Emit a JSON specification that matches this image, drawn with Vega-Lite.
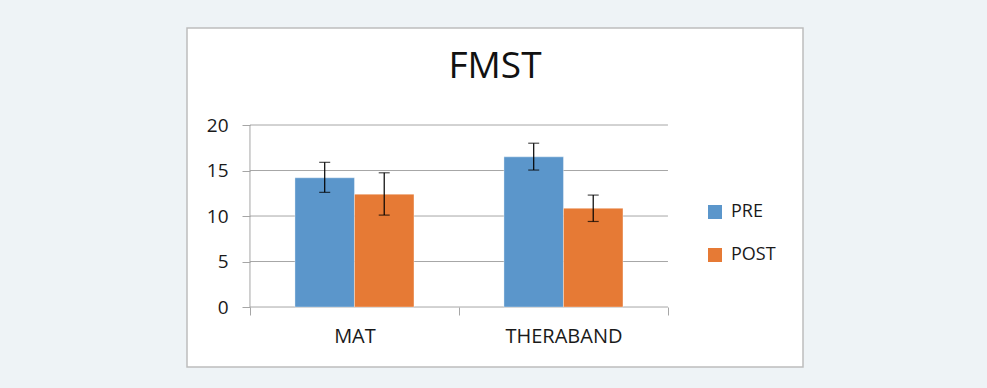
{
  "$schema": "https://vega.github.io/schema/vega-lite/v6.json",
  "width": 616,
  "height": 339,
  "autosize": {"type": "none"},
  "padding": {"left": 187, "top": 28, "right": 184, "bottom": 21},
  "background": "#EEF3F6",
  "config": {
    "view": {"fill": "#FFFFFF", "stroke": "#BDBDBD", "strokeWidth": 1.5},
    "font": "Open Sans"
  },
  "title": {
    "text": "FMST",
    "fontSize": 37,
    "font": "Open Sans",
    "fontWeight": "normal",
    "color": "#111111",
    "anchor": "middle",
    "frame": "group",
    "baseline": "alphabetic",
    "offset": -87
  },
  "datasets": {
    "bars": [
      {"group": "MAT", "phase": "PRE", "value": 14.2, "lo": 12.6, "hi": 15.9},
      {"group": "MAT", "phase": "POST", "value": 12.4, "lo": 10.1, "hi": 14.75},
      {"group": "THERABAND", "phase": "PRE", "value": 16.5, "lo": 15.05, "hi": 18.0},
      {"group": "THERABAND", "phase": "POST", "value": 10.85, "lo": 9.4, "hi": 12.3}
    ],
    "grid": [{"v": 0}, {"v": 5}, {"v": 10}, {"v": 15}, {"v": 20}]
  },
  "layer": [
    {
      "data": {"name": "grid"},
      "mark": {"type": "rule", "color": "#A6A6A6", "strokeWidth": 1},
      "encoding": {
        "y": {"field": "v", "type": "quantitative", "scale": {"domain": [-6.59, 30.66], "nice": false, "zero": false}},
        "x": {"datum": "MAT", "type": "nominal", "bandPosition": 0, "scale": {"domain": ["MAT", "THERABAND"], "paddingInner": 0, "paddingOuter": 0.4737, "align": 0.318}},
        "x2": {"datum": "THERABAND", "bandPosition": 1}
      }
    },
    {
      "data": {"name": "grid"},
      "transform": [{"filter": "datum.v == 0"}],
      "mark": {"type": "rule", "color": "#A6A6A6", "strokeWidth": 1},
      "encoding": {
        "y": {"datum": 0, "type": "quantitative"},
        "y2": {"datum": 20},
        "x": {"datum": "MAT", "type": "nominal", "bandPosition": 0}
      }
    },
    {
      "data": {"name": "bars"},
      "layer": [
        {
          "mark": {"type": "bar", "stroke": "#FFFFFF", "strokeOpacity": 0.35, "strokeWidth": 1},
          "encoding": {
            "x": {
              "field": "group", "type": "nominal",
              "axis": {
                "orient": "bottom", "offset": -60, "title": null, "domain": false,
                "tickBand": "extent", "tickSize": 8, "tickColor": "#A6A6A6",
                "labelAngle": 0, "labelAlign": "center", "labelFontSize": 20, "labelColor": "#1a1a1a", "labelPadding": 21, "labelFont": "Open Sans"
              }
            },
            "xOffset": {"field": "phase", "type": "nominal", "sort": ["PRE", "POST"], "scale": {"paddingInner": 0, "paddingOuter": 0.756}},
            "y": {
              "field": "value", "type": "quantitative",
              "axis": {
                "orient": "left", "offset": -63, "title": null, "domain": false, "grid": false,
                "values": [0, 5, 10, 15, 20], "tickSize": 8, "tickColor": "#A6A6A6",
                "labelFontSize": 19, "labelColor": "#1a1a1a", "labelPadding": 14, "labelFont": "Open Sans"
              }
            },
            "color": {
              "field": "phase", "type": "nominal", "sort": ["PRE", "POST"],
              "scale": {"domain": ["PRE", "POST"], "range": ["#5B96CB", "#E67A35"]},
              "legend": {
                "orient": "none", "legendX": 519, "legendY": 175, "title": null,
                "symbolType": "square", "symbolSize": 196, "symbolStrokeWidth": 0,
                "labelFontSize": 18, "labelColor": "#1a1a1a", "labelFont": "Open Sans",
                "labelOffset": 7, "rowPadding": 25, "padding": 0
              }
            }
          }
        },
        {
          "mark": {"type": "rule", "color": "#000000", "strokeWidth": 1.2},
          "encoding": {
            "x": {"field": "group", "type": "nominal"},
            "xOffset": {"field": "phase", "type": "nominal", "sort": ["PRE", "POST"]},
            "y": {"field": "lo", "type": "quantitative"},
            "y2": {"field": "hi"}
          }
        },
        {
          "mark": {"type": "tick", "orient": "horizontal", "color": "#000000", "thickness": 1.2, "size": 11},
          "encoding": {
            "x": {"field": "group", "type": "nominal"},
            "xOffset": {"field": "phase", "type": "nominal", "sort": ["PRE", "POST"]},
            "y": {"field": "lo", "type": "quantitative"}
          }
        },
        {
          "mark": {"type": "tick", "orient": "horizontal", "color": "#000000", "thickness": 1.2, "size": 11},
          "encoding": {
            "x": {"field": "group", "type": "nominal"},
            "xOffset": {"field": "phase", "type": "nominal", "sort": ["PRE", "POST"]},
            "y": {"field": "hi", "type": "quantitative"}
          }
        }
      ]
    }
  ]
}
